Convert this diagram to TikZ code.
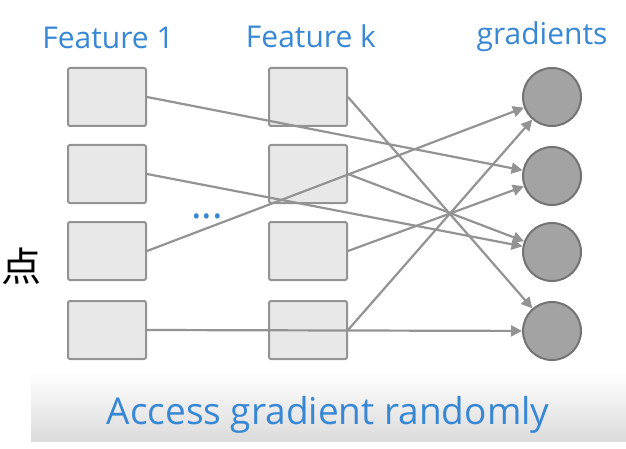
\documentclass[tikz,border=0pt]{standalone}
\usepackage{fontspec}
\setmainfont{Open Sans}
\newfontfamily\cjk{Noto Sans CJK SC}
\usepackage{tikz}
\usetikzlibrary{arrows.meta,positioning,shadings}
\colorlet{boxfill}{gray!18}
\colorlet{boxline}{gray!85}
\colorlet{gradfill}{gray!72}
\definecolor{labblue}{RGB}{55,135,212}
\tikzset{%
  feat/.style={draw=boxline,fill=boxfill,line width=2pt,rounded corners=2pt,minimum width=78pt,minimum height=58pt,inner sep=0pt},
  grad/.style={circle,draw=gray!90!black,fill=gradfill,line width=2pt,minimum size=58pt,inner sep=0pt},
  conn/.style={draw=gray!85,line width=2.2pt,-{Triangle[length=11pt,width=11pt]}},
  lab/.style={text=labblue,font=\fontsize{30}{32}\selectfont,inner sep=0pt},
}

\begin{document}
\begin{tikzpicture}[x=1pt,y=-1pt]
  \useasboundingbox (0,0) rectangle (626,449);
  % band under the caption
  \shade[top color=white,bottom color=gray!28] (31,372) rectangle (626,441);
  \node[font=\cjk\fontsize{40}{40}\selectfont,anchor=west,inner sep=0pt] (ch) at (1,266) {点};
  % column titles
  \node[lab] (t1) at (108,38) {Feature 1};
  \node[lab] (tk) at (311,36) {Feature k};
  \node[lab] (tg) at (542,37) {gradients};
  % feature 1 column
  \node[feat] (a1) at (107,97) {};
  \node[feat] (a2) at (107,174) {};
  \node[feat] (a3) at (107,251) {};
  \node[feat] (a4) at (107,330) {};
  % feature k column
  \node[feat] (b1) at (308,97) {};
  \node[feat] (b2) at (308,174) {};
  \node[feat] (b3) at (308,251) {};
  \node[feat] (b4) at (308,330) {};
  % gradients
  \node[grad] (g1) at (552,97) {};
  \node[grad] (g2) at (552,176) {};
  \node[grad] (g3) at (552,252) {};
  \node[grad] (g4) at (552,331) {};
  \node[text=labblue,font=\fontsize{40}{40}\selectfont,inner sep=0pt] (dots) at (207,216) {...};
  % connections
  \draw[conn] (a1.east) -- (g2);
  \draw[conn] (a2.east) -- (g3);
  \draw[conn] (a3.east) -- (g1);
  \draw[conn] (a4.east) -- (g4);
  \draw[conn] (b1.east) -- (g4);
  \draw[conn] (b2.east) -- (g3);
  \draw[conn] (b3.east) -- (g2);
  \draw[conn] (b4.east) -- (g1);
  \node[text=labblue,font=\fontsize{37}{40}\selectfont,inner sep=0pt,anchor=base] (cap) at (328,424) {Access gradient randomly};
\end{tikzpicture}
\end{document}
